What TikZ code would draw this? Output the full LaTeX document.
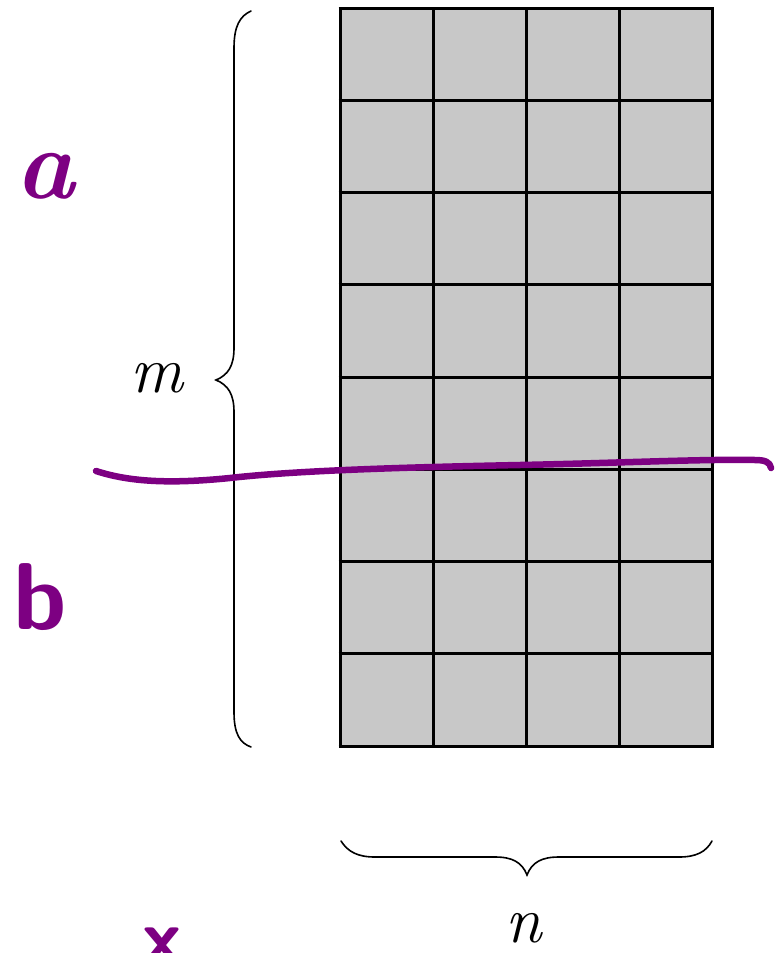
\documentclass[tikz,border=0pt]{standalone}
\usepackage{fontspec}
\begin{document}
\begin{tikzpicture}[x=1pt,y=-1pt,
  cellfill/.style={fill=cellgray},
  gridline/.style={line width=3pt,black},
  bracepath/.style={line width=1.6pt,black,line cap=round},
  penline/.style={line width=6.5pt,pen,line cap=round,line join=round},
  pentext/.style={text=pen,inner sep=0pt},
  mathlabel/.style={inner sep=0pt,text depth=0pt,font=\fontsize{66}{70}\selectfont\itshape}]
\definecolor{cellgray}{RGB}{200,200,200}
\definecolor{pen}{RGB}{125,0,130}
\useasboundingbox (0,0) rectangle (775,953);
\fill[white] (0,0) rectangle (775,953);
% grid
\fill[cellfill] (340,8) rectangle (712,746);
\foreach \x in {340,433,526,619,712} \draw[gridline] (\x,8) -- (\x,746);
\foreach \i in {0,...,8} \draw[gridline] (338.5,{8+\i*92.25}) -- (713.5,{8+\i*92.25});
% left brace
\draw[bracepath] (251,11) .. controls (240,16) and (234,26) .. (234,48) -- (234,348)
  .. controls (234,366) and (228,375) .. (216,380)
  .. controls (228,385) and (234,394) .. (234,412) -- (234,712)
  .. controls (234,734) and (240,743) .. (251,747);
\node[mathlabel] (m) at (157,378) {m};
% bottom brace
\draw[bracepath] (341,841) .. controls (348,852) and (358,857) .. (375,857) -- (495,857)
  .. controls (512,857) and (522,862) .. (527,875)
  .. controls (532,862) and (542,857) .. (559,857) -- (679,857)
  .. controls (696,857) and (706,852) .. (712,841);
\node[mathlabel,anchor=base] (n) at (524,942) {n};
% handwritten annotations
\draw[penline] (96,471) .. controls (130,482) and (170,484) .. (230,478)
  .. controls (300,470) and (420,467) .. (520,465)
  .. controls (620,463) and (700,459) .. (755,460)
  .. controls (765,460) and (770,462) .. (771,468);
\node[pentext,font=\fontsize{100}{100}\selectfont\bfseries\itshape] (a) at (45,176) {a};
\node[pentext,font=\fontsize{95}{100}\selectfont\sffamily\bfseries] (b) at (40,597) {b};
\node[pentext,font=\fontsize{80}{90}\selectfont\sffamily\bfseries,anchor=north] (x) at (162,928) {x};
\end{tikzpicture}
\end{document}
